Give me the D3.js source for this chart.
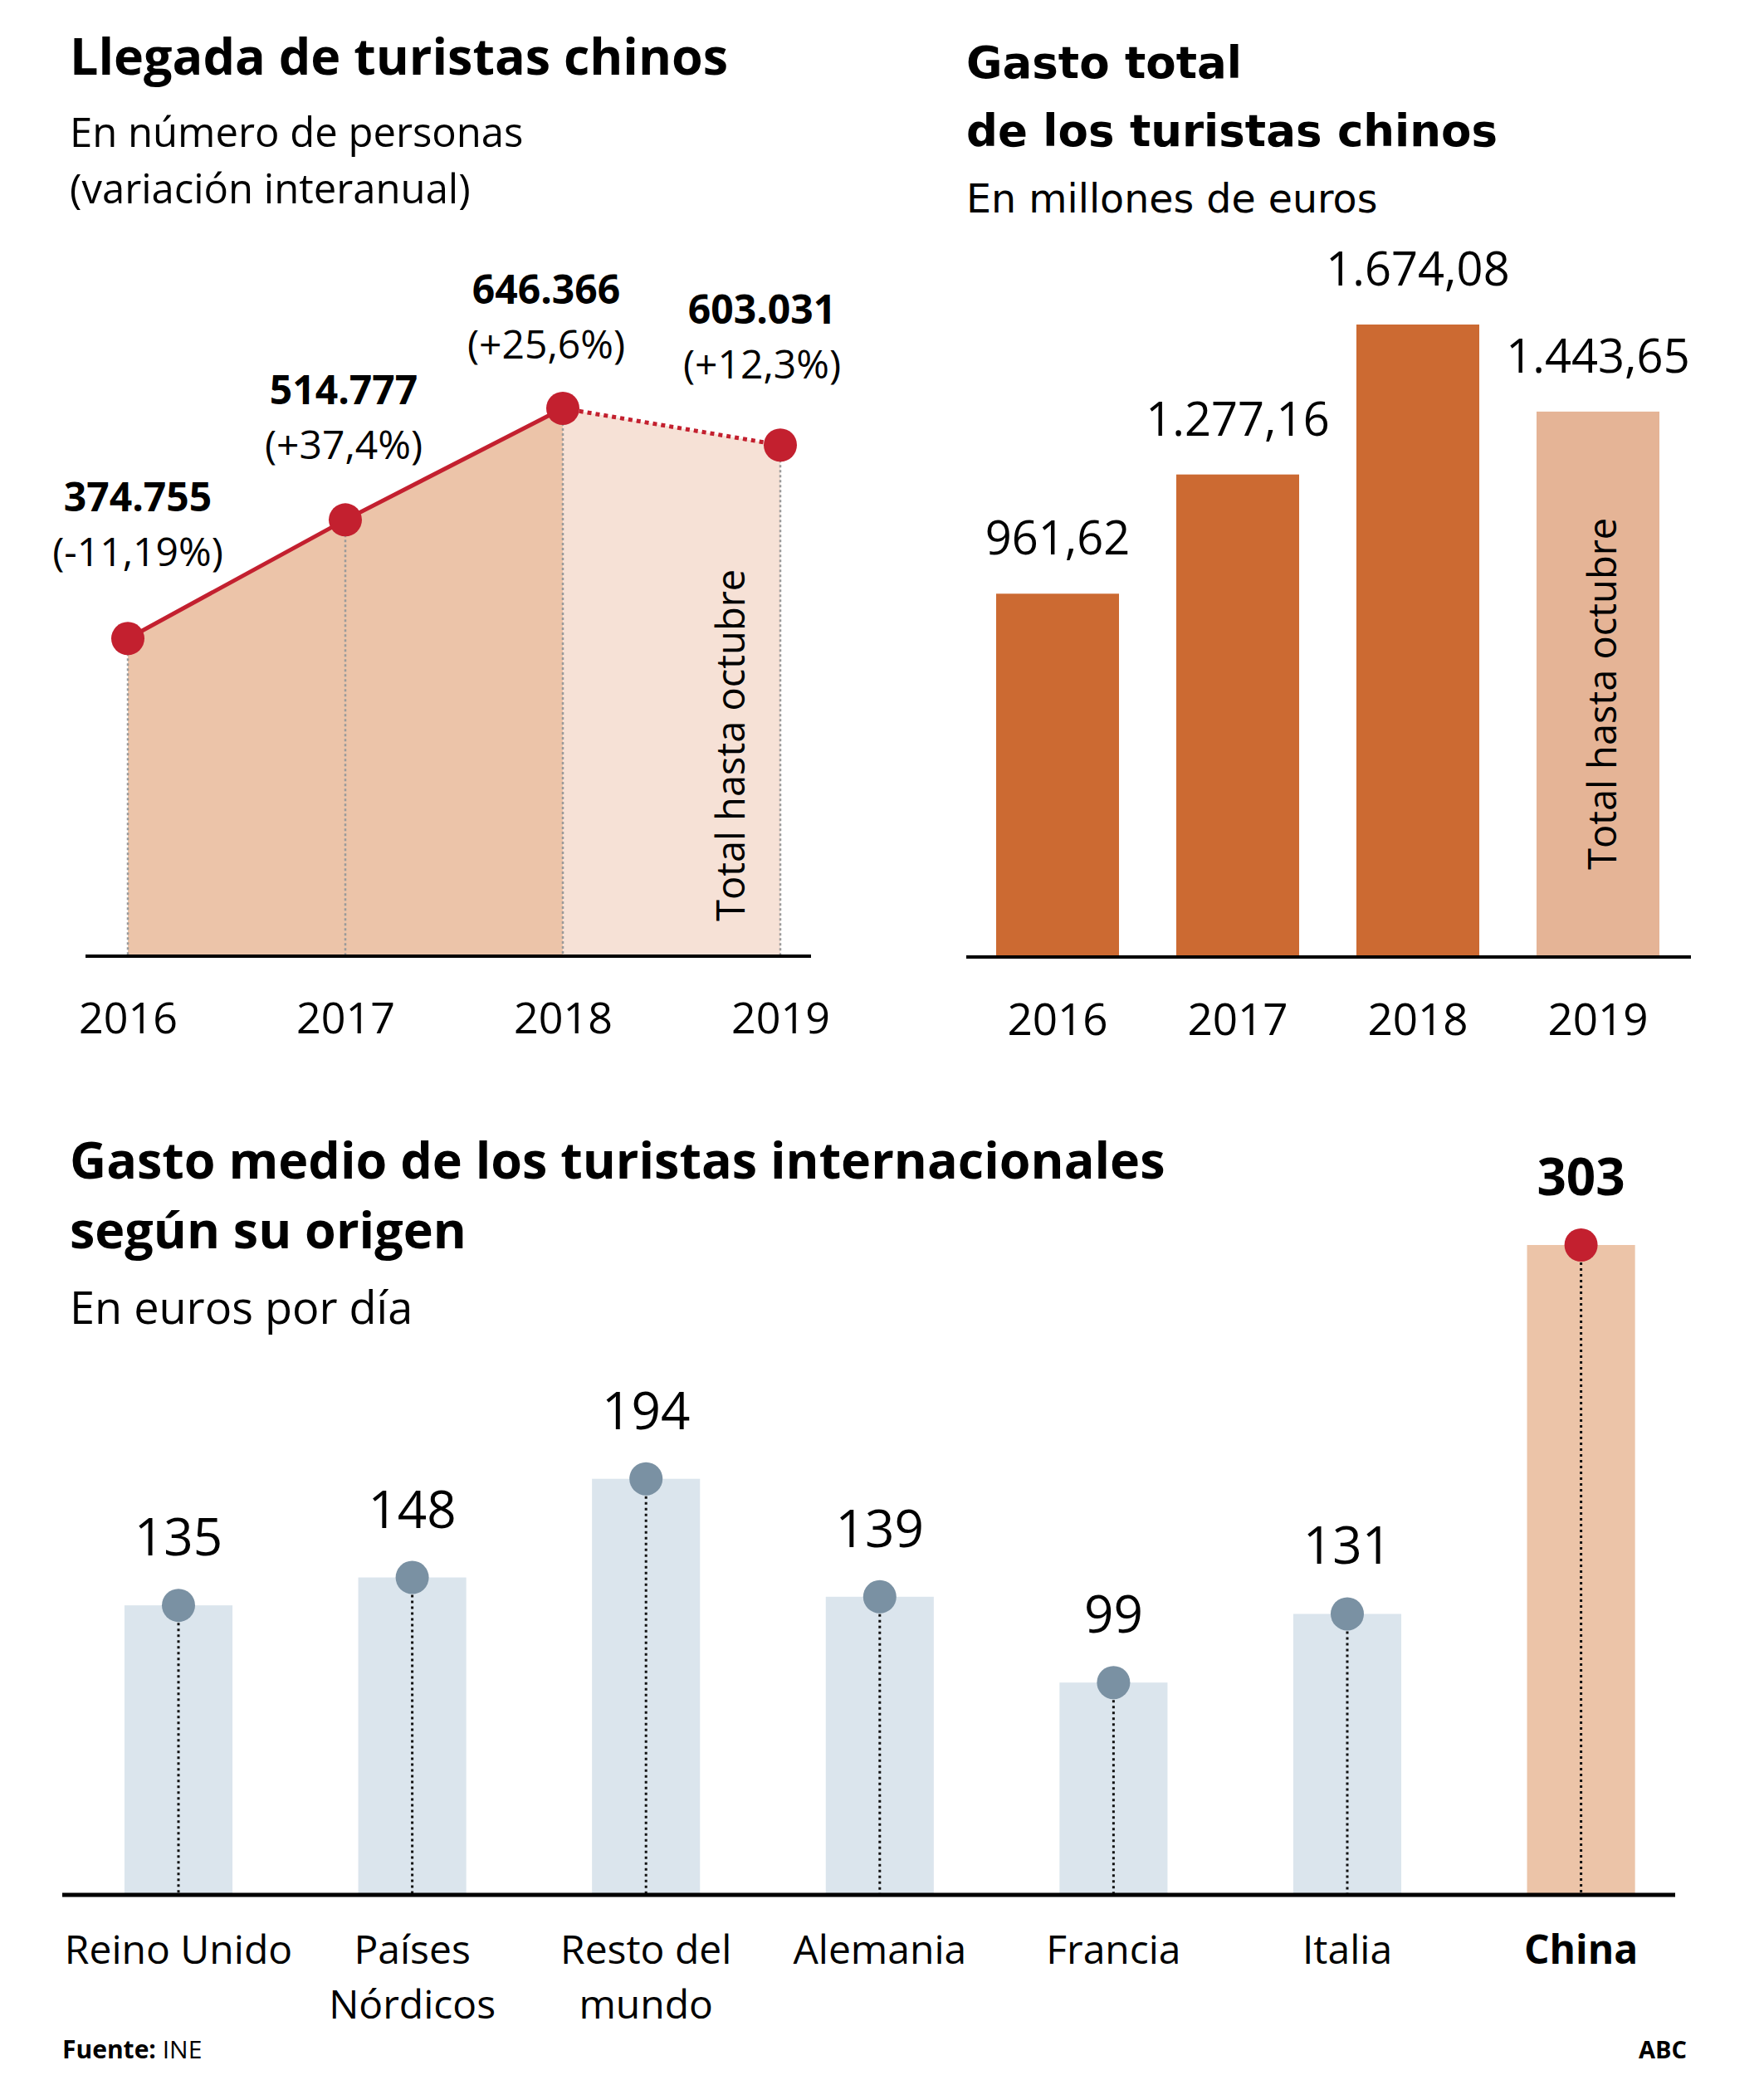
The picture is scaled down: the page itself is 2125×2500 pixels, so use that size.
<!DOCTYPE html>
<html>
<head>
<meta charset="utf-8">
<script src="https://cdn.jsdelivr.net/npm/d3@7"></script>
<style>
  html, body { margin: 0; padding: 0; background: #fff; }
  svg { display: block; }
</style>
</head>
<body>
<script>
// ---------------- DATA ----------------
const years = ["2016", "2017", "2018", "2019"];
const arrivals = [374755, 514777, 646366, 603031];
const arrivalsChange = ["(-11,19%)", "(+37,4%)", "(+25,6%)", "(+12,3%)"];
const spending = [961.62, 1277.16, 1674.08, 1443.65];
const origins = ["Reino Unido", "Países Nórdicos", "Resto del mundo", "Alemania", "Francia", "Italia", "China"];
const originLabelLines = [["Reino Unido"], ["Países", "Nórdicos"], ["Resto del", "mundo"], ["Alemania"], ["Francia"], ["Italia"], ["China"]];
const dailySpend = [135, 148, 194, 139, 99, 131, 303];
const partialYear = "2019";
const highlightOrigin = "China";

// ---------------- SETUP ----------------
const es = d3.formatLocale({ decimal: ",", thousands: ".", grouping: [3], currency: ["", " €"] });
const fmtInt = es.format(",d");
const fmt2 = es.format(",.2f");

const W = 2125, H = 2500;
const OS = '"Open Sans", "Noto Sans", sans-serif';
const DV = '"DejaVu Sans", Verdana, sans-serif';
const svg = d3.select("body").append("svg").attr("width", W).attr("height", H)
  .attr("font-family", OS);
svg.append("rect").attr("width", W).attr("height", H).attr("fill", "#fff");

const RED = "#c3202f";

// ================= CHART 1: Llegada de turistas chinos =================
const g1 = svg.append("g");
g1.append("text").attr("x", 84).attr("y", 90).attr("font-size", 61).attr("font-weight", 700)
  .text("Llegada de turistas chinos");
const sub1 = g1.append("text").attr("font-size", 49);
sub1.append("tspan").attr("x", 84).attr("y", 177).text("En número de personas");
sub1.append("tspan").attr("x", 84).attr("y", 245).text("(variación interanual)");

const base1 = 1152;
const x1 = d3.scalePoint().domain(years).range([154, 940]);
const y1 = d3.scaleLinear().domain([0, 646366]).range([base1, 492]);
const pts1 = years.map((yr, i) => ({ yr, v: arrivals[i], c: arrivalsChange[i] }));

const area1 = d3.area().x(d => x1(d.yr)).y0(base1).y1(d => y1(d.v));
g1.append("path").datum(pts1.slice(0, 3)).attr("d", area1).attr("fill", "#ecc4a9");
g1.append("path").datum(pts1.slice(2, 4)).attr("d", area1).attr("fill", "#f6e1d6");

// dotted verticals
g1.selectAll("line.v").data(pts1).join("line")
  .attr("x1", d => x1(d.yr)).attr("x2", d => x1(d.yr))
  .attr("y1", d => y1(d.v)).attr("y2", base1)
  .attr("stroke", "#9a9a9a").attr("stroke-width", 2.5).attr("stroke-dasharray", "3,3");

// axis line
g1.append("line").attr("x1", 103).attr("x2", 977).attr("y1", base1).attr("y2", base1)
  .attr("stroke", "#000").attr("stroke-width", 4);

const line1 = d3.line().x(d => x1(d.yr)).y(d => y1(d.v));
g1.append("path").datum(pts1.slice(0, 3)).attr("d", line1)
  .attr("fill", "none").attr("stroke", RED).attr("stroke-width", 5);
g1.append("path").datum(pts1.slice(2, 4)).attr("d", line1)
  .attr("fill", "none").attr("stroke", RED).attr("stroke-width", 5).attr("stroke-dasharray", "5,5");

g1.selectAll("circle").data(pts1).join("circle")
  .attr("cx", d => x1(d.yr)).attr("cy", d => y1(d.v)).attr("r", 20).attr("fill", RED);

// labels (layout nudges)
const nudge1 = [[12, -153], [-2, -139], [-20, -126], [-22, -146]];
pts1.forEach((d, i) => {
  const lx = x1(d.yr) + nudge1[i][0];
  const ly = y1(d.v) + nudge1[i][1];
  g1.append("text").attr("x", lx).attr("y", ly).attr("text-anchor", "middle")
    .attr("font-size", 48).attr("font-weight", 700).text(fmtInt(d.v));
  g1.append("text").attr("x", lx).attr("y", ly + 66).attr("text-anchor", "middle")
    .attr("font-size", 48).text(d.c);
});

// year axis labels
const ax1 = g1.append("g").attr("transform", `translate(0,${base1})`)
  .call(d3.axisBottom(x1).tickSize(0).tickPadding(0));
ax1.select(".domain").remove();
ax1.selectAll("text").attr("font-family", OS).attr("font-size", 52).attr("fill", "#000")
  .attr("dy", null).attr("y", 93);

// partial-year note
g1.append("text")
  .attr("transform", `translate(${x1(partialYear) - 43},1110) rotate(-90)`)
  .attr("font-size", 47).text("Total hasta octubre");

// ================= CHART 2: Gasto total =================
const g2 = svg.append("g");
g2.append("text").attr("x", 1164).attr("y", 94).attr("font-family", DV).attr("font-size", 53)
  .attr("font-weight", 700).text("Gasto total");
g2.append("text").attr("x", 1164).attr("y", 176).attr("font-family", DV).attr("font-size", 53)
  .attr("font-weight", 700).text("de los turistas chinos");
g2.append("text").attr("x", 1164).attr("y", 256).attr("font-family", DV).attr("font-size", 47.5)
  .text("En millones de euros");

const base2 = 1153;
const x2 = d3.scaleBand().domain(years).range([1165.5, 2033.5]).paddingInner(0.318).paddingOuter(0.159);
const y2 = d3.scaleLinear().domain([0, 1674.08]).range([base2, 391]);
const bars2 = years.map((yr, i) => ({ yr, v: spending[i] }));

g2.selectAll("rect").data(bars2).join("rect")
  .attr("x", d => x2(d.yr)).attr("width", x2.bandwidth())
  .attr("y", d => y2(d.v)).attr("height", d => base2 - y2(d.v))
  .attr("fill", d => d.yr === partialYear ? "#e5b496" : "#cc6a32");

g2.append("line").attr("x1", 1164).attr("x2", 2037).attr("y1", base2).attr("y2", base2)
  .attr("stroke", "#000").attr("stroke-width", 4);

g2.selectAll("text.val").data(bars2).join("text").attr("class", "val")
  .attr("x", d => x2(d.yr) + x2.bandwidth() / 2).attr("y", d => y2(d.v) - 47)
  .attr("text-anchor", "middle").attr("font-size", 56).text(d => fmt2(d.v));

const ax2 = g2.append("g").attr("transform", `translate(0,${base2})`)
  .call(d3.axisBottom(x2).tickSize(0).tickPadding(0));
ax2.select(".domain").remove();
ax2.selectAll("text").attr("font-family", OS).attr("font-size", 53).attr("fill", "#000")
  .attr("dy", null).attr("y", 94);

g2.append("text")
  .attr("transform", `translate(${x2(partialYear) + x2.bandwidth() / 2 + 22},1048) rotate(-90)`)
  .attr("font-size", 47).text("Total hasta octubre");

// ================= CHART 3: Gasto medio =================
const g3 = svg.append("g");
const t3 = g3.append("text").attr("font-size", 61).attr("font-weight", 700);
t3.append("tspan").attr("x", 84).attr("y", 1420).text("Gasto medio de los turistas internacionales");
t3.append("tspan").attr("x", 84).attr("y", 1504).text("según su origen");
g3.append("text").attr("x", 84).attr("y", 1595).attr("font-size", 54).text("En euros por día");

const base3 = 2283;
const x3 = d3.scaleBand().domain(origins).range([74.2, 2045.4]).paddingInner(0.538).paddingOuter(0.269);
const y3 = d3.scaleLinear().domain([0, 303]).range([base3, 1500]);
const bars3 = origins.map((o, i) => ({ o, v: dailySpend[i], lines: originLabelLines[i], hi: o === highlightOrigin }));
const cx3 = d => x3(d.o) + x3.bandwidth() / 2;

g3.selectAll("rect").data(bars3).join("rect")
  .attr("x", d => x3(d.o)).attr("width", x3.bandwidth())
  .attr("y", d => y3(d.v)).attr("height", d => base3 - y3(d.v))
  .attr("fill", d => d.hi ? "#ecc4a8" : "#dbe5ed");

g3.selectAll("line.v").data(bars3).join("line")
  .attr("x1", cx3).attr("x2", cx3).attr("y1", d => y3(d.v)).attr("y2", base3)
  .attr("stroke", "#111").attr("stroke-width", 3).attr("stroke-dasharray", "3,4");

g3.append("line").attr("x1", 75).attr("x2", 2018).attr("y1", base3).attr("y2", base3)
  .attr("stroke", "#000").attr("stroke-width", 5);

g3.selectAll("circle").data(bars3).join("circle")
  .attr("cx", cx3).attr("cy", d => y3(d.v)).attr("r", 20)
  .attr("fill", d => d.hi ? RED : "#7a91a3");

g3.selectAll("text.val").data(bars3).join("text").attr("class", "val")
  .attr("x", cx3).attr("y", d => y3(d.v) - 60).attr("text-anchor", "middle")
  .attr("font-size", 62).attr("font-weight", d => d.hi ? 700 : 400).text(d => d.v);

const cat = g3.selectAll("text.cat").data(bars3).join("text").attr("class", "cat")
  .attr("text-anchor", "middle").attr("font-size", 48)
  .attr("font-weight", d => d.hi ? 700 : 400);
cat.selectAll("tspan").data(d => d.lines.map(l => ({ l, x: cx3(d) }))).join("tspan")
  .attr("x", t => t.x).attr("y", (t, i) => 2366 + i * 66).text(t => t.l);

// ================= FOOTER =================
const f = svg.append("text").attr("x", 75).attr("y", 2480).attr("font-size", 30);
f.append("tspan").attr("font-weight", 700).text("Fuente: ");
f.append("tspan").text("INE");
svg.append("text").attr("x", 2032).attr("y", 2480).attr("text-anchor", "end")
  .attr("font-size", 29).attr("font-weight", 700).text("ABC");
</script>
</body>
</html>
